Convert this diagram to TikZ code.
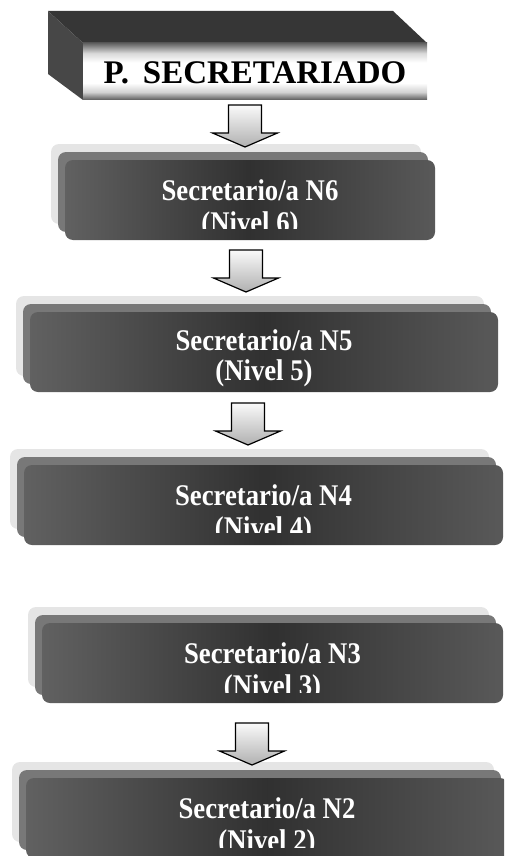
\documentclass[tikz,border=0pt]{standalone}
\usepackage{fontspec}
\setmainfont{Liberation Serif}
\usetikzlibrary{positioning}
\definecolor{bxedge}{gray}{0.38}
\definecolor{bxmid}{gray}{0.19}
\definecolor{lyrmed}{gray}{0.47}
\definecolor{lyrlight}{gray}{0.90}
\definecolor{prtop}{gray}{0.21}
\definecolor{prleft}{gray}{0.28}
\pgfdeclareverticalshading{frontface}{100bp}{color(0bp)=(gray!70!black); color(25bp)=(gray!70!black); color(32bp)=(gray!35); color(40bp)=(white); color(58bp)=(white); color(66bp)=(gray!30); color(75bp)=(gray!75!black); color(100bp)=(gray!75!black)}
\tikzset{
  lvltext/.style={text=white, inner sep=0pt, anchor=base, font=\fontsize{30}{34}\selectfont\bfseries},
  lvlfront/.style={left color=bxedge, right color=bxedge!105, middle color=bxmid, rounded corners=8pt, draw=none},
  arrowfill/.style={draw=black, line width=1.2pt, top color=gray!4, bottom color=gray!62, line join=miter},
}
% #1 x1, #2 y1, #3 x2, #4 y2, #5 digit, #6 baseline1 offset, #7 baseline2 offset, #8 clip bottom offset
\newcommand\lvlbox[8]{%
  \begin{scope}[shift={(-14,-16)}]
    \fill[lyrlight, rounded corners=8pt] (#1,#2) rectangle (#3,#4);
  \end{scope}
  \begin{scope}[shift={(-7,-8)}]
    \fill[lyrmed, rounded corners=8pt] (#1,#2) rectangle (#3,#4);
  \end{scope}
  \shade[lvlfront] (#1,#2) rectangle (#3,#4);
  \node[inner sep=0pt, minimum width={#3-#1}, minimum height={#4-#2}] (n#5) at ({(#1+#3)/2},{(#2+#4)/2}) {};
  \node[lvltext] (t#5a) at ({(#1+#3)/2},{#2+#6}) {\scalebox{0.89}[1]{Secretario/a N#5}};
  \begin{scope}
    \clip (#1,#2) rectangle (#3,{#4-#8});
    \node[lvltext] (t#5b) at ({(#1+#3)/2},{#2+#7}) {\scalebox{0.89}[1]{(Nivel #5)}};
  \end{scope}
}
\newcommand\blockarrow[2]{%
  \shade[arrowfill] ({#1-16.5},{#2}) -- ({#1+16.5},{#2}) -- ({#1+16.5},{#2+28}) -- ({#1+32.5},{#2+28}) -- ({#1},{#2+42}) -- ({#1-32.5},{#2+28}) -- ({#1-16.5},{#2+28}) -- cycle;
}
\begin{document}
\begin{tikzpicture}[x=1pt,y=-1pt]
\useasboundingbox (0,0) rectangle (504,856);
\clip (0,0) rectangle (504,856);
% top prism
\fill[prtop] (48,11) -- (393,11) -- (427,43) -- (83,43) -- cycle;
\fill[prleft] (48,11) -- (83,43) -- (83,100) -- (48,74) -- cycle;
\shade[shading=frontface] (83,43) rectangle (427,100);
\node[inner sep=0pt, minimum width=344pt, minimum height=57pt] (top) at (255,71.5) {};
\node[inner sep=0pt, anchor=base, font=\fontsize{33}{38}\selectfont\bfseries] (toptext) at (255,84) {P.\hspace{14pt}SECRETARIADO};
% level boxes
\lvlbox{65}{160}{435}{240}{6}{40}{72}{12}
\lvlbox{30}{312}{498}{392}{5}{38}{68}{0}
\lvlbox{24}{465}{503}{545}{4}{40}{72}{13}
\lvlbox{42}{623}{503}{703}{3}{40}{72}{11}
\lvlbox{26}{778}{508}{858}{2}{40}{72}{11}
% block arrows
\blockarrow{245}{105}
\blockarrow{246}{250}
\blockarrow{248}{403}
\blockarrow{252}{723}
\end{tikzpicture}
\end{document}
